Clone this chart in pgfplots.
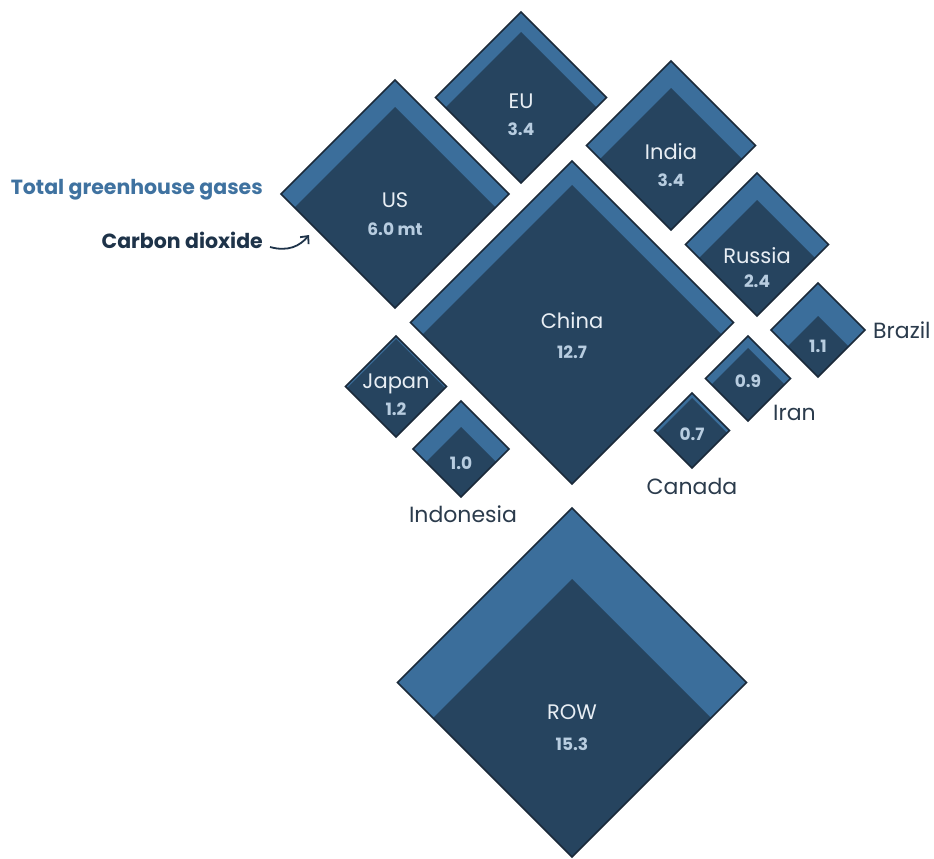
\documentclass[border=0pt]{standalone}
\usepackage{pgfplots}
\pgfplotsset{compat=1.18}
\usepackage{fontspec}
\setmainfont{Poppins}
\usetikzlibrary{arrows.meta}
\definecolor{gl}{HTML}{3B6E9B}
\definecolor{gd}{HTML}{26445F}
\definecolor{ol}{HTML}{1B2A3A}
\definecolor{nm}{HTML}{E8EEF4}
\definecolor{nu}{HTML}{B8CDE0}
\definecolor{lab}{HTML}{2B3B4C}
\definecolor{tg}{HTML}{3F72A0}
\definecolor{cd}{HTML}{1E3349}
\begin{document}
\begin{tikzpicture}
\begin{axis}[x=1pt,y=1pt,y dir=reverse,xmin=0,xmax=934,ymin=0,ymax=859,
  hide axis,clip=false,scale only axis,
  outer/.style={fill=gl,draw=none},
  inner/.style={fill=gd,draw=none},
  edge/.style={draw=ol,line width=1.6pt,fill=none,line join=miter}]
\draw[draw=none] (axis cs:0,0) rectangle (axis cs:934,859);
% US
\addplot[outer] coordinates {(395,80) (509,194) (395,308) (281,194)} -- cycle;
\addplot[inner] coordinates {(395,107) (495.5,207.5) (395,308) (294.5,207.5)} -- cycle;
\addplot[edge] coordinates {(395,80) (509,194) (395,308) (281,194)} -- cycle;
% EU
\addplot[outer] coordinates {(521,12) (606.5,97.5) (521,183) (435.5,97.5)} -- cycle;
\addplot[inner] coordinates {(521,32) (596.5,107.5) (521,183) (445.5,107.5)} -- cycle;
\addplot[edge] coordinates {(521,12) (606.5,97.5) (521,183) (435.5,97.5)} -- cycle;
% India
\addplot[outer] coordinates {(671,61) (755.5,145.5) (671,230) (586.5,145.5)} -- cycle;
\addplot[inner] coordinates {(671,88) (742,159) (671,230) (600,159)} -- cycle;
\addplot[edge] coordinates {(671,61) (755.5,145.5) (671,230) (586.5,145.5)} -- cycle;
% Russia
\addplot[outer] coordinates {(757,173) (828.5,244.5) (757,316) (685.5,244.5)} -- cycle;
\addplot[inner] coordinates {(757,200) (815,258) (757,316) (699,258)} -- cycle;
\addplot[edge] coordinates {(757,173) (828.5,244.5) (757,316) (685.5,244.5)} -- cycle;
% Brazil
\addplot[outer] coordinates {(818,283) (865,330) (818,377) (771,330)} -- cycle;
\addplot[inner] coordinates {(818,316) (848.5,346.5) (818,377) (787.5,346.5)} -- cycle;
\addplot[edge] coordinates {(818,283) (865,330) (818,377) (771,330)} -- cycle;
% Iran
\addplot[outer] coordinates {(748,336) (790.5,378.5) (748,421) (705.5,378.5)} -- cycle;
\addplot[inner] coordinates {(748,348) (784.5,384.5) (748,421) (711.5,384.5)} -- cycle;
\addplot[edge] coordinates {(748,336) (790.5,378.5) (748,421) (705.5,378.5)} -- cycle;
% China
\addplot[outer] coordinates {(572,161) (733.5,322.5) (572,484) (410.5,322.5)} -- cycle;
\addplot[inner] coordinates {(572,185) (721.5,334.5) (572,484) (422.5,334.5)} -- cycle;
\addplot[edge] coordinates {(572,161) (733.5,322.5) (572,484) (410.5,322.5)} -- cycle;
% Canada
\addplot[outer] coordinates {(692,393) (729.5,430.5) (692,468) (654.5,430.5)} -- cycle;
\addplot[inner] coordinates {(692,398) (727,433) (692,468) (657,433)} -- cycle;
\addplot[edge] coordinates {(692,393) (729.5,430.5) (692,468) (654.5,430.5)} -- cycle;
% Japan
\addplot[outer] coordinates {(396,336) (446.5,386.5) (396,437) (345.5,386.5)} -- cycle;
\addplot[inner] coordinates {(396,339) (445,388) (396,437) (347,388)} -- cycle;
\addplot[edge] coordinates {(396,336) (446.5,386.5) (396,437) (345.5,386.5)} -- cycle;
% Indonesia
\addplot[outer] coordinates {(461,401) (509,449) (461,497) (413,449)} -- cycle;
\addplot[inner] coordinates {(461,427) (496,462) (461,497) (426,462)} -- cycle;
\addplot[edge] coordinates {(461,401) (509,449) (461,497) (413,449)} -- cycle;
% ROW
\addplot[outer] coordinates {(572,508) (746.5,682.5) (572,857) (397.5,682.5)} -- cycle;
\addplot[inner] coordinates {(572,579) (711,718) (572,857) (433,718)} -- cycle;
\addplot[edge] coordinates {(572,508) (746.5,682.5) (572,857) (397.5,682.5)} -- cycle;
% labels
\tikzset{nmst/.style={text=nm,font=\fontsize{21}{23}\selectfont,inner sep=0pt},
  nust/.style={text=nu,font=\bfseries\fontsize{17}{19}\selectfont,inner sep=0pt},
  lbst/.style={text=lab,font=\fontsize{22}{24}\selectfont,inner sep=0pt}}
\node[nmst] at (axis cs:395,200) {US};
\node[nust] at (axis cs:395,229) {6.0 mt};
\node[nmst] at (axis cs:521,101) {EU};
\node[nust] at (axis cs:521,129) {3.4};
\node[nmst] at (axis cs:671,152) {India};
\node[nust] at (axis cs:671,180) {3.4};
\node[nmst] at (axis cs:757,256) {Russia};
\node[nust] at (axis cs:757,281) {2.4};
\node[nmst] at (axis cs:572,321) {China};
\node[nust] at (axis cs:572,352) {12.7};
\node[nust] at (axis cs:818,346) {1.1};
\node[lbst,anchor=west] at (axis cs:873,330) {Brazil};
\node[nust] at (axis cs:748,381) {0.9};
\node[lbst,anchor=west] at (axis cs:773,413) {Iran};
\node[nust] at (axis cs:692,434) {0.7};
\node[lbst] at (axis cs:692,486) {Canada};
\node[nmst] at (axis cs:396,384) {Japan};
\node[nust] at (axis cs:396,409) {1.2};
\node[nust] at (axis cs:461,463) {1.0};
\node[lbst] at (axis cs:463,514) {Indonesia};
\node[nmst] at (axis cs:572,712) {ROW};
\node[nust] at (axis cs:572,744) {15.3};
\node[text=tg,font=\bfseries\fontsize{20.5}{22}\selectfont,inner sep=0pt,anchor=east] at (axis cs:263,190) {Total greenhouse gases};
\node[text=cd,font=\bfseries\fontsize{20.5}{22}\selectfont,inner sep=0pt,anchor=east] at (axis cs:263,240) {Carbon dioxide};
\draw[cd,line width=1.8pt,-{Straight Barb[length=6pt,width=11pt]}] (axis cs:270,247) .. controls (axis cs:288,252) and (axis cs:300,246) .. (axis cs:309,235);
\end{axis}
\end{tikzpicture}
\end{document}
